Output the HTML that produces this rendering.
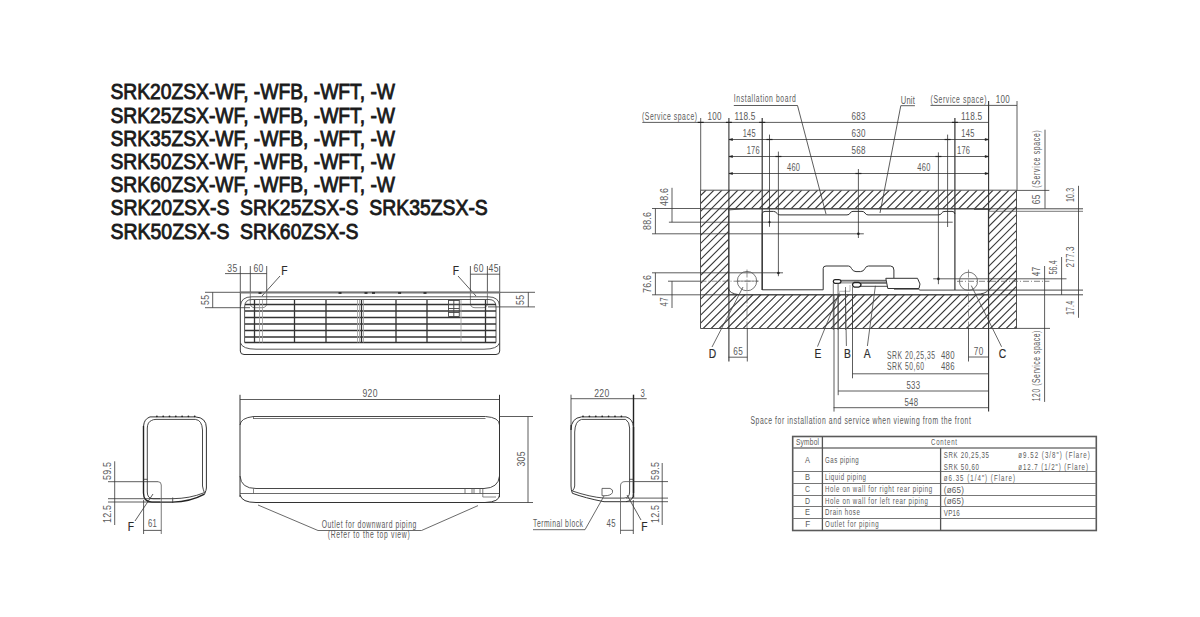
<!DOCTYPE html>
<html><head><meta charset="utf-8"><style>
html,body{margin:0;padding:0;background:#fff;width:1200px;height:617px;overflow:hidden}
svg{display:block}
.cad{font-family:"Liberation Sans",sans-serif;}
.ttl{font-family:"Liberation Sans",sans-serif;stroke:#1a1a1a;stroke-width:0.9px}
.lbl{font-family:"Liberation Sans",sans-serif;stroke:#333;stroke-width:0.2px}
</style></head><body>
<svg width="1200" height="617" viewBox="0 0 1200 617">
<defs><pattern id="hatch" patternUnits="userSpaceOnUse" width="9" height="9" x="0.5" y="0.2"><path d="M-1 10 L10 -1" stroke="#333" stroke-width="0.8"/></pattern></defs>
<rect width="1200" height="617" fill="#fff"/>
<text class="ttl" x="110.5" y="99.0" font-size="22.6" fill="#1a1a1a" text-anchor="start" textLength="284.5" lengthAdjust="spacingAndGlyphs" >SRK20ZSX-WF, -WFB, -WFT, -W</text>
<text class="ttl" x="110.5" y="122.5" font-size="22.6" fill="#1a1a1a" text-anchor="start" textLength="284.5" lengthAdjust="spacingAndGlyphs" >SRK25ZSX-WF, -WFB, -WFT, -W</text>
<text class="ttl" x="110.5" y="145.6" font-size="22.6" fill="#1a1a1a" text-anchor="start" textLength="284.5" lengthAdjust="spacingAndGlyphs" >SRK35ZSX-WF, -WFB, -WFT, -W</text>
<text class="ttl" x="110.5" y="168.6" font-size="22.6" fill="#1a1a1a" text-anchor="start" textLength="284.5" lengthAdjust="spacingAndGlyphs" >SRK50ZSX-WF, -WFB, -WFT, -W</text>
<text class="ttl" x="110.5" y="191.8" font-size="22.6" fill="#1a1a1a" text-anchor="start" textLength="284.5" lengthAdjust="spacingAndGlyphs" >SRK60ZSX-WF, -WFB, -WFT, -W</text>
<text class="ttl" x="110.5" y="215.1" font-size="22.6" fill="#1a1a1a" text-anchor="start" textLength="119" lengthAdjust="spacingAndGlyphs" >SRK20ZSX-S</text>
<text class="ttl" x="240" y="215.1" font-size="22.6" fill="#1a1a1a" text-anchor="start" textLength="118.5" lengthAdjust="spacingAndGlyphs" >SRK25ZSX-S</text>
<text class="ttl" x="369.3" y="215.1" font-size="22.6" fill="#1a1a1a" text-anchor="start" textLength="118.5" lengthAdjust="spacingAndGlyphs" >SRK35ZSX-S</text>
<text class="ttl" x="110.5" y="238.8" font-size="22.6" fill="#1a1a1a" text-anchor="start" textLength="119" lengthAdjust="spacingAndGlyphs" >SRK50ZSX-S</text>
<text class="ttl" x="240" y="238.8" font-size="22.6" fill="#1a1a1a" text-anchor="start" textLength="118.5" lengthAdjust="spacingAndGlyphs" >SRK60ZSX-S</text>
<line x1="225" y1="273.6" x2="266.7" y2="273.6" stroke="#333" stroke-width="0.8" />
<line x1="240.3" y1="266" x2="240.3" y2="292" stroke="#333" stroke-width="0.8" />
<line x1="250.3" y1="266" x2="250.3" y2="292" stroke="#333" stroke-width="0.8" />
<line x1="266.7" y1="266" x2="266.7" y2="292" stroke="#333" stroke-width="0.8" />
<text class="cad" x="0" y="0" font-size="10" fill="#5a5a5a" text-anchor="middle" textLength="11.59" lengthAdjust="spacing" transform="translate(232.3 271.5) scale(0.8631638100590054 1)" >35</text>
<text class="cad" x="0" y="0" font-size="10" fill="#5a5a5a" text-anchor="middle" textLength="11.59" lengthAdjust="spacing" transform="translate(258.4 271.5) scale(0.8631638100590054 1)" >60</text>
<text class="lbl" x="0" y="0" font-size="13.2" fill="#2a2a2a" text-anchor="middle" transform="translate(284.5 275) scale(0.78 1)">F</text>
<line x1="280" y1="276" x2="262" y2="296" stroke="#333" stroke-width="0.8" />
<line x1="212.7" y1="292.3" x2="212.7" y2="307.7" stroke="#333" stroke-width="0.8" />
<line x1="205" y1="292.3" x2="240" y2="292.3" stroke="#333" stroke-width="0.8" />
<line x1="205" y1="307.7" x2="250" y2="307.7" stroke="#333" stroke-width="0.8" />
<text class="cad" x="0" y="0" font-size="10" fill="#5a5a5a" text-anchor="middle" textLength="11.59" lengthAdjust="spacing" transform="translate(209 300) rotate(-90) scale(0.8631638100590054 1)" >55</text>
<line x1="470.4" y1="274.2" x2="499.7" y2="274.2" stroke="#333" stroke-width="0.8" />
<line x1="470.4" y1="266" x2="470.4" y2="292" stroke="#333" stroke-width="0.8" />
<line x1="487.4" y1="266" x2="487.4" y2="292" stroke="#333" stroke-width="0.8" />
<line x1="499.7" y1="266" x2="499.7" y2="292" stroke="#333" stroke-width="0.8" />
<text class="cad" x="0" y="0" font-size="10" fill="#5a5a5a" text-anchor="middle" textLength="11.59" lengthAdjust="spacing" transform="translate(478.5 271.5) scale(0.8631638100590054 1)" >60</text>
<text class="cad" x="0" y="0" font-size="10" fill="#5a5a5a" text-anchor="middle" textLength="11.59" lengthAdjust="spacing" transform="translate(493.5 271.5) scale(0.8631638100590054 1)" >45</text>
<text class="lbl" x="0" y="0" font-size="13.2" fill="#2a2a2a" text-anchor="middle" transform="translate(456 275) scale(0.78 1)">F</text>
<line x1="458" y1="276" x2="476" y2="296" stroke="#333" stroke-width="0.8" />
<line x1="528.3" y1="292.3" x2="528.3" y2="306.9" stroke="#333" stroke-width="0.8" />
<line x1="500" y1="292.3" x2="535" y2="292.3" stroke="#333" stroke-width="0.8" />
<line x1="488" y1="306.9" x2="535" y2="306.9" stroke="#333" stroke-width="0.8" />
<text class="cad" x="0" y="0" font-size="10" fill="#5a5a5a" text-anchor="middle" textLength="11.59" lengthAdjust="spacing" transform="translate(524 300) rotate(-90) scale(0.8631638100590054 1)" >55</text>
<path d="M250.3 292 V303 Q250.3 307.7 255 307.7 H262 Q266.7 307.7 266.7 303 V292" stroke="#555" stroke-width="0.7" fill="none" />
<path d="M470.4 292 V303 Q470.4 307.7 475 307.7 H483 Q487.4 307.7 487.4 303 V292" stroke="#555" stroke-width="0.7" fill="none" />
<path d="M240.3 292.3 V351 Q240.3 354.5 244 354.5 H496 Q499.7 354.5 499.7 351 V292.3 Z" stroke="#333" stroke-width="1.0" fill="none" />
<line x1="240.3" y1="292.5" x2="499.7" y2="292.5" stroke="#777" stroke-width="2.0" />
<path d="M240.5 306 Q240.8 296.8 252 296.8 H488 Q499.3 296.8 499.5 306" stroke="#444" stroke-width="0.9" fill="none" />
<path d="M244.6 342.5 V307 Q244.6 299.5 252 299.5 H489 Q496 299.5 496 307 V342.5" stroke="#444" stroke-width="0.9" fill="none" />
<path d="M240.5 343 Q242.5 349.2 256 349.2 H484 Q497.5 349.2 499.5 343" stroke="#444" stroke-width="0.9" fill="none" />
<line x1="244.6" y1="342.5" x2="496" y2="342.5" stroke="#333" stroke-width="1.3" />
<line x1="245" y1="304.5" x2="496" y2="304.5" stroke="#333" stroke-width="1.3" />
<line x1="245" y1="311.0" x2="496" y2="311.0" stroke="#333" stroke-width="1.3" />
<line x1="245" y1="317.5" x2="496" y2="317.5" stroke="#333" stroke-width="1.3" />
<line x1="245" y1="324.0" x2="496" y2="324.0" stroke="#333" stroke-width="1.3" />
<line x1="245" y1="330.5" x2="496" y2="330.5" stroke="#333" stroke-width="1.3" />
<line x1="245" y1="337.0" x2="496" y2="337.0" stroke="#333" stroke-width="1.3" />
<line x1="294.5" y1="300" x2="294.5" y2="342.5" stroke="#333" stroke-width="1.3" />
<line x1="326" y1="300" x2="326" y2="342.5" stroke="#333" stroke-width="1.3" />
<line x1="361.5" y1="300" x2="361.5" y2="342.5" stroke="#333" stroke-width="1.3" />
<line x1="396" y1="300" x2="396" y2="342.5" stroke="#333" stroke-width="1.3" />
<line x1="427" y1="300" x2="427" y2="342.5" stroke="#333" stroke-width="1.3" />
<line x1="485.5" y1="300" x2="485.5" y2="342.5" stroke="#333" stroke-width="1.3" />
<line x1="254.5" y1="300" x2="254.5" y2="342.5" stroke="#333" stroke-width="1.3" />
<line x1="259.5" y1="300" x2="259.5" y2="342.5" stroke="#999" stroke-width="0.8" />
<line x1="262.5" y1="300" x2="262.5" y2="342.5" stroke="#999" stroke-width="0.8" />
<line x1="357.5" y1="300" x2="357.5" y2="342.5" stroke="#999" stroke-width="0.8" />
<line x1="359.5" y1="300" x2="359.5" y2="342.5" stroke="#999" stroke-width="0.8" />
<line x1="363.5" y1="300" x2="363.5" y2="342.5" stroke="#999" stroke-width="0.8" />
<line x1="461" y1="300" x2="461" y2="342.5" stroke="#999" stroke-width="0.8" />
<line x1="448.3" y1="300.5" x2="459.3" y2="300.5" stroke="#444" stroke-width="0.9" />
<line x1="448.3" y1="304.5" x2="459.3" y2="304.5" stroke="#444" stroke-width="0.9" />
<line x1="448.3" y1="308.5" x2="459.3" y2="308.5" stroke="#444" stroke-width="0.9" />
<line x1="448.3" y1="312.5" x2="459.3" y2="312.5" stroke="#444" stroke-width="0.9" />
<line x1="448.3" y1="316.5" x2="459.3" y2="316.5" stroke="#444" stroke-width="0.9" />
<line x1="448.5" y1="300" x2="448.5" y2="316.5" stroke="#444" stroke-width="0.9" />
<line x1="453.8" y1="300" x2="453.8" y2="316.5" stroke="#444" stroke-width="0.9" />
<line x1="459.3" y1="300" x2="459.3" y2="316.5" stroke="#444" stroke-width="0.9" />
<line x1="338.5" y1="293" x2="341.5" y2="293" stroke="#222" stroke-width="1.6" />
<line x1="364.5" y1="293" x2="367.5" y2="293" stroke="#222" stroke-width="1.6" />
<line x1="372.0" y1="293" x2="375.0" y2="293" stroke="#222" stroke-width="1.6" />
<line x1="398.1" y1="293" x2="401.1" y2="293" stroke="#222" stroke-width="1.6" />
<line x1="258.5" y1="293" x2="261.5" y2="293" stroke="#222" stroke-width="1.6" />
<line x1="423.5" y1="293" x2="426.5" y2="293" stroke="#222" stroke-width="1.6" />
<path d="M143.5 426 V493 Q143.5 502.1 152 502.1 H172.7 Q190 502 204.5 494.2" stroke="#222" stroke-width="1.4" fill="none" />
<path d="M147.3 428 V492 Q147.3 498.7 153 498.7 H172.7 Q190 498.5 203.9 492.8" stroke="#333" stroke-width="0.9" fill="none" />
<line x1="172.7" y1="497.5" x2="172.7" y2="503" stroke="#333" stroke-width="0.8" />
<line x1="143.5" y1="479.3" x2="147.3" y2="479.3" stroke="#333" stroke-width="0.8" />
<path d="M143.6 426 Q144 419 150 416.9 H195.3 Q206.4 417.5 206.4 428 V488 Q206.4 490 204.5 494.2" stroke="#333" stroke-width="1.0" fill="none" />
<path d="M147.3 428 Q147.5 422 151.5 420.5 Q153 419.4 156 419.4 H195.3 Q202 420 202.5 430 V486 Q203 489 204.5 493" stroke="#333" stroke-width="0.9" fill="none" />
<circle cx="156.9" cy="416.3" r="0.9" fill="#222"/>
<circle cx="163.20000000000002" cy="416.3" r="0.9" fill="#222"/>
<circle cx="169.5" cy="416.3" r="0.9" fill="#222"/>
<circle cx="175.8" cy="416.3" r="0.9" fill="#222"/>
<circle cx="182.1" cy="416.3" r="0.9" fill="#222"/>
<circle cx="188.4" cy="416.3" r="0.9" fill="#222"/>
<circle cx="194.7" cy="416.3" r="0.9" fill="#222"/>
<line x1="114.7" y1="461.3" x2="114.7" y2="502" stroke="#333" stroke-width="0.8" />
<line x1="108" y1="481.7" x2="158" y2="481.7" stroke="#333" stroke-width="0.8" />
<path d="M158 481.7 Q161.25 481.7 161.25 485 V534" stroke="#555" stroke-width="0.8" fill="none" />
<line x1="108" y1="498.7" x2="160" y2="498.7" stroke="#333" stroke-width="0.8" />
<line x1="108" y1="502" x2="160" y2="502" stroke="#333" stroke-width="0.8" />
<line x1="114.7" y1="502" x2="114.7" y2="525" stroke="#333" stroke-width="0.8" />
<text class="cad" x="0" y="0" font-size="10" fill="#5a5a5a" text-anchor="middle" textLength="20.27" lengthAdjust="spacing" transform="translate(111 471) rotate(-90) scale(0.8879325572059413 1)" >59.5</text>
<text class="cad" x="0" y="0" font-size="10" fill="#5a5a5a" text-anchor="middle" textLength="20.27" lengthAdjust="spacing" transform="translate(111 514) rotate(-90) scale(0.8879325572059413 1)" >12.5</text>
<line x1="143.6" y1="500" x2="143.6" y2="534" stroke="#333" stroke-width="0.8" />
<line x1="143.6" y1="530.4" x2="161.25" y2="530.4" stroke="#333" stroke-width="0.8" />
<text class="cad" x="0" y="0" font-size="10" fill="#5a5a5a" text-anchor="middle" textLength="11.59" lengthAdjust="spacing" transform="translate(152.4 527) scale(0.7768474290531048 1)" >61</text>
<text class="lbl" x="0" y="0" font-size="13.2" fill="#2a2a2a" text-anchor="middle" transform="translate(131 531) scale(0.78 1)">F</text>
<line x1="135" y1="521" x2="153" y2="494" stroke="#333" stroke-width="0.8" />
<line x1="240" y1="394.8" x2="240" y2="497" stroke="#333" stroke-width="1.0" />
<line x1="499.5" y1="394.8" x2="499.5" y2="497" stroke="#333" stroke-width="1.0" />
<line x1="240" y1="399.5" x2="499.5" y2="399.5" stroke="#333" stroke-width="0.8" />
<text class="cad" x="0" y="0" font-size="10" fill="#5a5a5a" text-anchor="middle" textLength="17.38" lengthAdjust="spacing" transform="translate(370 397.4) scale(0.8631638100590053 1)" >920</text>
<line x1="253.5" y1="416.5" x2="485.5" y2="416.5" stroke="#333" stroke-width="0.9" />
<line x1="253.5" y1="418.5" x2="485.5" y2="418.5" stroke="#555" stroke-width="0.8" />
<path d="M240 425 Q240.5 418 253.5 416.5" stroke="#333" stroke-width="0.9" fill="none" />
<line x1="253.5" y1="416" x2="253.5" y2="419" stroke="#444" stroke-width="0.7" />
<path d="M485.5 416.5 Q499.5 417.5 499.5 425" stroke="#333" stroke-width="0.9" fill="none" />
<path d="M240 476 Q241 488.5 256 488.5 H484 Q498.5 488 499.5 476" stroke="#333" stroke-width="0.9" fill="none" />
<line x1="240" y1="493.5" x2="499.5" y2="493.5" stroke="#444" stroke-width="0.8" />
<path d="M240 495 Q242 502.5 256 502.5 H485 Q499.5 502 499.5 495" stroke="#333" stroke-width="1.0" fill="none" />
<line x1="253.5" y1="488.5" x2="253.5" y2="493.5" stroke="#555" stroke-width="0.7" />
<line x1="465" y1="488.5" x2="465" y2="493.5" stroke="#555" stroke-width="0.8" />
<line x1="472" y1="488.5" x2="472" y2="493.5" stroke="#555" stroke-width="0.8" />
<line x1="474" y1="488.5" x2="474" y2="493.5" stroke="#555" stroke-width="0.8" />
<line x1="480" y1="488.5" x2="480" y2="493.5" stroke="#555" stroke-width="0.8" />
<line x1="482.8" y1="488.5" x2="482.8" y2="493.5" stroke="#555" stroke-width="0.8" />
<path d="M482.8 493.5 V497 H496" stroke="#555" stroke-width="0.7" fill="none" />
<line x1="499.5" y1="416.5" x2="533" y2="416.5" stroke="#333" stroke-width="0.8" />
<line x1="485" y1="502.5" x2="533" y2="502.5" stroke="#333" stroke-width="0.8" />
<line x1="528" y1="416.5" x2="528" y2="502.5" stroke="#333" stroke-width="0.8" />
<text class="cad" x="0" y="0" font-size="10" fill="#5a5a5a" text-anchor="middle" textLength="17.38" lengthAdjust="spacing" transform="translate(524.5 459) rotate(-90) scale(0.8631638100590053 1)" >305</text>
<path d="M258 505 L318 530.5 H421.5 L478 505.6" stroke="#444" stroke-width="0.8" fill="none" />
<text class="cad" x="0" y="0" font-size="10" fill="#5a5a5a" text-anchor="middle" textLength="139.12" lengthAdjust="spacing" transform="translate(369 527.5) scale(0.68 1)" >Outlet for downward piping</text>
<text class="cad" x="0" y="0" font-size="10" fill="#5a5a5a" text-anchor="middle" textLength="120.59" lengthAdjust="spacing" transform="translate(368.7 538.3) scale(0.68 1)" >(Refer to the top view)</text>
<line x1="571" y1="394.7" x2="571" y2="430" stroke="#333" stroke-width="0.8" />
<line x1="571" y1="398.7" x2="633.3" y2="398.7" stroke="#333" stroke-width="0.8" />
<line x1="633.3" y1="398.7" x2="646.7" y2="398.7" stroke="#333" stroke-width="0.8" />
<line x1="633.5" y1="394.7" x2="633.5" y2="497.6" stroke="#222" stroke-width="1.4" />
<text class="cad" x="0" y="0" font-size="10" fill="#5a5a5a" text-anchor="middle" textLength="17.38" lengthAdjust="spacing" transform="translate(601.7 396.5) scale(0.8631638100590053 1)" >220</text>
<text class="cad" x="0" y="0" font-size="10" fill="#5a5a5a" text-anchor="middle" textLength="5.79" lengthAdjust="spacing" transform="translate(642.6 396.5) scale(0.7768474290531048 1)" >3</text>
<path d="M571 425 V486 Q571 490 572.4 493.3 Q585 498 604 501.7 H626 Q633.5 501 633.5 493 V427 Q633 419 626 416.9 H581.5 Q571 418 571 430" stroke="#333" stroke-width="1.0" fill="none" />
<path d="M574.7 432 V486 Q574.7 488 572.4 491 Q590 497 604 498.1 H624 Q629.6 498 629.6 492 V428 Q629.6 422 625.7 419.4 H581.5 Q575 421 574.7 432" stroke="#333" stroke-width="0.9" fill="none" />
<line x1="633.5" y1="427" x2="633.5" y2="493" stroke="#222" stroke-width="1.4" />
<line x1="629.6" y1="479.3" x2="633.5" y2="479.3" stroke="#333" stroke-width="0.8" />
<circle cx="583.0" cy="416.3" r="0.9" fill="#222"/>
<circle cx="589.4" cy="416.3" r="0.9" fill="#222"/>
<circle cx="595.8" cy="416.3" r="0.9" fill="#222"/>
<circle cx="602.2" cy="416.3" r="0.9" fill="#222"/>
<circle cx="608.6" cy="416.3" r="0.9" fill="#222"/>
<circle cx="615.0" cy="416.3" r="0.9" fill="#222"/>
<circle cx="621.4" cy="416.3" r="0.9" fill="#222"/>
<path d="M602 488.4 H610 Q613.5 489.5 612.5 492.5 Q611 495.7 605 495.7 H602 Z" stroke="#444" stroke-width="0.8" fill="none" />
<path d="M604 496 L585 529.7 H533" stroke="#444" stroke-width="0.8" fill="none" />
<text class="cad" x="0" y="0" font-size="10" fill="#5a5a5a" text-anchor="middle" textLength="73.53" lengthAdjust="spacing" transform="translate(558 526.5) scale(0.68 1)" >Terminal block</text>
<path d="M633 481.6 H625 Q620.5 481.6 620.5 486 V534" stroke="#555" stroke-width="0.8" fill="none" />
<line x1="620.5" y1="530.3" x2="633.3" y2="530.3" stroke="#333" stroke-width="0.8" />
<line x1="633.3" y1="500" x2="633.3" y2="534" stroke="#333" stroke-width="0.8" />
<text class="cad" x="0" y="0" font-size="10" fill="#5a5a5a" text-anchor="middle" textLength="11.59" lengthAdjust="spacing" transform="translate(611 527) scale(0.7768474290531048 1)" >45</text>
<line x1="626" y1="498.1" x2="668" y2="498.1" stroke="#333" stroke-width="0.8" />
<line x1="626" y1="501.7" x2="668" y2="501.7" stroke="#333" stroke-width="0.8" />
<line x1="633" y1="481.6" x2="668" y2="481.6" stroke="#333" stroke-width="0.8" />
<line x1="662.2" y1="463" x2="662.2" y2="525" stroke="#333" stroke-width="0.8" />
<text class="cad" x="0" y="0" font-size="10" fill="#5a5a5a" text-anchor="middle" textLength="20.27" lengthAdjust="spacing" transform="translate(658.5 471) rotate(-90) scale(0.8879325572059413 1)" >59.5</text>
<text class="cad" x="0" y="0" font-size="10" fill="#5a5a5a" text-anchor="middle" textLength="20.27" lengthAdjust="spacing" transform="translate(658.5 514) rotate(-90) scale(0.8879325572059413 1)" >12.5</text>
<text class="lbl" x="0" y="0" font-size="13.2" fill="#2a2a2a" text-anchor="middle" transform="translate(644.5 531) scale(0.78 1)">F</text>
<line x1="627" y1="495" x2="641" y2="520" stroke="#333" stroke-width="0.8" />
<clipPath id="hc"><path d="M700.5 190.2 H1016.5 V328.5 H700.5 Z M728.7 208.8 V294.8 H988.4 V208.8 Z" clip-rule="evenodd"/></clipPath>
<path d="M559.15 329 L698.15 190 M567.12 329 L706.12 190 M575.10 329 L714.10 190 M583.08 329 L722.08 190 M591.05 329 L730.05 190 M599.03 329 L738.03 190 M607.00 329 L746.00 190 M614.98 329 L753.98 190 M622.95 329 L761.95 190 M630.93 329 L769.93 190 M638.90 329 L777.90 190 M646.88 329 L785.88 190 M654.85 329 L793.85 190 M662.83 329 L801.83 190 M670.80 329 L809.80 190 M678.78 329 L817.78 190 M686.75 329 L825.75 190 M694.73 329 L833.73 190 M702.70 329 L841.70 190 M710.67 329 L849.67 190 M718.65 329 L857.65 190 M726.62 329 L865.62 190 M734.60 329 L873.60 190 M742.58 329 L881.58 190 M750.55 329 L889.55 190 M758.53 329 L897.53 190 M766.50 329 L905.50 190 M774.48 329 L913.48 190 M782.45 329 L921.45 190 M790.42 329 L929.42 190 M798.40 329 L937.40 190 M806.38 329 L945.38 190 M814.35 329 L953.35 190 M822.33 329 L961.33 190 M830.30 329 L969.30 190 M838.28 329 L977.28 190 M846.25 329 L985.25 190 M854.23 329 L993.23 190 M862.20 329 L1001.20 190 M870.17 329 L1009.17 190 M878.15 329 L1017.15 190 M886.12 329 L1025.12 190 M894.10 329 L1033.10 190 M902.08 329 L1041.08 190 M910.05 329 L1049.05 190 M918.03 329 L1057.03 190 M926.00 329 L1065.00 190 M933.97 329 L1072.97 190 M941.95 329 L1080.95 190 M949.92 329 L1088.92 190 M957.90 329 L1096.90 190 M965.88 329 L1104.88 190 M973.85 329 L1112.85 190 M981.83 329 L1120.83 190 M989.80 329 L1128.80 190 M997.78 329 L1136.78 190 M1005.75 329 L1144.75 190 M1013.72 329 L1152.72 190 M1021.70 329 L1160.70 190 M1029.67 329 L1168.67 190 M1037.65 329 L1176.65 190 M1045.62 329 L1184.62 190 M1053.60 329 L1192.60 190 M1061.58 329 L1200.58 190 M1069.55 329 L1208.55 190" stroke="#3a3a3a" stroke-width="1.1" clip-path="url(#hc)" fill="none"/>
<path d="M700.5 190.2 H1016.5 V328.5 H700.5 Z M728.7 208.8 V294.8 H988.4 V208.8 Z" fill="none" fill-rule="evenodd" stroke="#505050" stroke-width="1"/>
<line x1="642.3" y1="122.4" x2="988.9" y2="122.4" stroke="#333" stroke-width="0.8" />
<text class="cad" x="0" y="0" font-size="10" fill="#5a5a5a" text-anchor="middle" textLength="80.88" lengthAdjust="spacing" transform="translate(669.5 120.3) scale(0.68 1)" >(Service space)</text>
<text class="cad" x="0" y="0" font-size="10" fill="#5a5a5a" text-anchor="middle" textLength="17.38" lengthAdjust="spacing" transform="translate(714.5 120.3) scale(0.8056195560550715 1)" >100</text>
<text class="cad" x="0" y="0" font-size="10" fill="#5a5a5a" text-anchor="middle" textLength="25.29" lengthAdjust="spacing" transform="translate(745 120.3) scale(0.830323701653903 1)" >118.5</text>
<text class="cad" x="0" y="0" font-size="10" fill="#5a5a5a" text-anchor="middle" textLength="17.38" lengthAdjust="spacing" transform="translate(858.4 120.3) scale(0.8056195560550715 1)" >683</text>
<text class="cad" x="0" y="0" font-size="10" fill="#5a5a5a" text-anchor="middle" textLength="25.29" lengthAdjust="spacing" transform="translate(971.6 120.3) scale(0.830323701653903 1)" >118.5</text>
<line x1="728.9" y1="139.5" x2="988.9" y2="139.5" stroke="#333" stroke-width="0.8" />
<line x1="728.9" y1="156.5" x2="988.9" y2="156.5" stroke="#333" stroke-width="0.8" />
<line x1="728.9" y1="173.5" x2="988.9" y2="173.5" stroke="#333" stroke-width="0.8" />
<text class="cad" x="0" y="0" font-size="10" fill="#5a5a5a" text-anchor="middle" textLength="17.38" lengthAdjust="spacing" transform="translate(749.2 137) scale(0.7480753020511379 1)" >145</text>
<text class="cad" x="0" y="0" font-size="10" fill="#5a5a5a" text-anchor="middle" textLength="17.38" lengthAdjust="spacing" transform="translate(858.4 137) scale(0.8056195560550715 1)" >630</text>
<text class="cad" x="0" y="0" font-size="10" fill="#5a5a5a" text-anchor="middle" textLength="17.38" lengthAdjust="spacing" transform="translate(967.8 137) scale(0.7480753020511379 1)" >145</text>
<text class="cad" x="0" y="0" font-size="10" fill="#5a5a5a" text-anchor="middle" textLength="17.38" lengthAdjust="spacing" transform="translate(753.2 154) scale(0.7480753020511379 1)" >176</text>
<text class="cad" x="0" y="0" font-size="10" fill="#5a5a5a" text-anchor="middle" textLength="17.38" lengthAdjust="spacing" transform="translate(858.4 154) scale(0.8056195560550715 1)" >568</text>
<text class="cad" x="0" y="0" font-size="10" fill="#5a5a5a" text-anchor="middle" textLength="17.38" lengthAdjust="spacing" transform="translate(963.5 154) scale(0.7480753020511379 1)" >176</text>
<text class="cad" x="0" y="0" font-size="10" fill="#5a5a5a" text-anchor="middle" textLength="17.38" lengthAdjust="spacing" transform="translate(793.5 171) scale(0.7480753020511379 1)" >460</text>
<text class="cad" x="0" y="0" font-size="10" fill="#5a5a5a" text-anchor="middle" textLength="17.38" lengthAdjust="spacing" transform="translate(923.8 171) scale(0.7480753020511379 1)" >460</text>
<line x1="930.5" y1="105.4" x2="1017" y2="105.4" stroke="#333" stroke-width="0.8" />
<text class="cad" x="0" y="0" font-size="10" fill="#5a5a5a" text-anchor="middle" textLength="82.35" lengthAdjust="spacing" transform="translate(958.5 103) scale(0.68 1)" >(Service space)</text>
<text class="cad" x="0" y="0" font-size="10" fill="#5a5a5a" text-anchor="middle" textLength="17.38" lengthAdjust="spacing" transform="translate(1002.7 103) scale(0.8056195560550715 1)" >100</text>
<line x1="700.7" y1="118" x2="700.7" y2="190.2" stroke="#333" stroke-width="0.8" />
<line x1="728.9" y1="118" x2="728.9" y2="361.5" stroke="#333" stroke-width="1.1" />
<line x1="762.2" y1="118" x2="762.2" y2="290" stroke="#333" stroke-width="1.2" />
<line x1="769.5" y1="134.6" x2="769.5" y2="226.8" stroke="#333" stroke-width="0.8" />
<line x1="778.4" y1="151.6" x2="778.4" y2="276.2" stroke="#333" stroke-width="0.8" />
<line x1="858.4" y1="169" x2="858.4" y2="238" stroke="#333" stroke-width="0.8" />
<line x1="938.4" y1="152.4" x2="938.4" y2="284.2" stroke="#333" stroke-width="0.8" />
<line x1="947.6" y1="134.6" x2="947.6" y2="227" stroke="#333" stroke-width="0.8" />
<line x1="954.9" y1="118" x2="954.9" y2="290" stroke="#333" stroke-width="1.2" />
<line x1="988.6" y1="101" x2="988.6" y2="411.6" stroke="#333" stroke-width="1.1" />
<line x1="1017" y1="101" x2="1017" y2="190.2" stroke="#333" stroke-width="0.8" />
<line x1="759.2" y1="122.4" x2="765.2" y2="122.4" stroke="#222" stroke-width="1.2" />
<line x1="766.5" y1="139.5" x2="772.5" y2="139.5" stroke="#222" stroke-width="1.2" />
<line x1="775.4" y1="156.5" x2="781.4" y2="156.5" stroke="#222" stroke-width="1.2" />
<line x1="855.4" y1="173.5" x2="861.4" y2="173.5" stroke="#222" stroke-width="1.2" />
<line x1="935.4" y1="156.5" x2="941.4" y2="156.5" stroke="#222" stroke-width="1.2" />
<line x1="944.6" y1="139.5" x2="950.6" y2="139.5" stroke="#222" stroke-width="1.2" />
<line x1="951.9" y1="122.4" x2="957.9" y2="122.4" stroke="#222" stroke-width="1.2" />
<line x1="697.7" y1="122.4" x2="703.7" y2="122.4" stroke="#222" stroke-width="1.2" />
<line x1="725.9" y1="122.4" x2="731.9" y2="122.4" stroke="#222" stroke-width="1.2" />
<path d="M729 139.5 l3.5 -1 v2 z" stroke="#222" stroke-width="0.6" fill="#222" />
<path d="M988.6 139.5 l-3.5 -1 v2 z" stroke="#222" stroke-width="0.6" fill="#222" />
<path d="M729 156.5 l3.5 -1 v2 z" stroke="#222" stroke-width="0.6" fill="#222" />
<path d="M988.6 156.5 l-3.5 -1 v2 z" stroke="#222" stroke-width="0.6" fill="#222" />
<path d="M729 173.5 l3.5 -1 v2 z" stroke="#222" stroke-width="0.6" fill="#222" />
<path d="M988.6 173.5 l-3.5 -1 v2 z" stroke="#222" stroke-width="0.6" fill="#222" />
<line x1="733.8" y1="105.5" x2="797.5" y2="105.5" stroke="#333" stroke-width="0.8" />
<text class="cad" x="0" y="0" font-size="10" fill="#5a5a5a" text-anchor="middle" textLength="91.18" lengthAdjust="spacing" transform="translate(764.8 102.2) scale(0.68 1)" >Installation board</text>
<line x1="797.5" y1="105.5" x2="826" y2="214" stroke="#333" stroke-width="0.8" />
<line x1="900.8" y1="105.7" x2="914.9" y2="105.7" stroke="#333" stroke-width="0.8" />
<text class="cad" x="0" y="0" font-size="10" fill="#5a5a5a" text-anchor="middle" textLength="18.52" lengthAdjust="spacing" transform="translate(907.8 104) scale(0.7557859590545647 1)" >Unit</text>
<line x1="900.8" y1="105.7" x2="880" y2="213" stroke="#333" stroke-width="0.8" />
<line x1="652" y1="208.5" x2="700.5" y2="208.5" stroke="#333" stroke-width="0.8" />
<line x1="668.9" y1="222.2" x2="700.5" y2="222.2" stroke="#333" stroke-width="0.8" />
<line x1="652" y1="233.8" x2="700.5" y2="233.8" stroke="#333" stroke-width="0.8" />
<line x1="672" y1="187.8" x2="672" y2="222.2" stroke="#333" stroke-width="0.8" />
<line x1="655.4" y1="208.5" x2="655.4" y2="233.8" stroke="#333" stroke-width="0.8" />
<text class="cad" x="0" y="0" font-size="10" fill="#5a5a5a" text-anchor="middle" textLength="20.27" lengthAdjust="spacing" transform="translate(667.8 197) rotate(-90) scale(0.8879325572059413 1)" >48.6</text>
<text class="cad" x="0" y="0" font-size="10" fill="#5a5a5a" text-anchor="middle" textLength="20.27" lengthAdjust="spacing" transform="translate(651.2 221) rotate(-90) scale(0.8879325572059413 1)" >88.6</text>
<line x1="652" y1="272.8" x2="700.5" y2="272.8" stroke="#333" stroke-width="0.8" />
<line x1="668" y1="281.2" x2="700.5" y2="281.2" stroke="#333" stroke-width="0.8" />
<line x1="652" y1="294.8" x2="700.5" y2="294.8" stroke="#333" stroke-width="0.8" />
<line x1="655.4" y1="272.8" x2="655.4" y2="294.8" stroke="#333" stroke-width="0.8" />
<line x1="672" y1="281.2" x2="672" y2="308" stroke="#333" stroke-width="0.8" />
<text class="cad" x="0" y="0" font-size="10" fill="#5a5a5a" text-anchor="middle" textLength="20.27" lengthAdjust="spacing" transform="translate(651.2 284) rotate(-90) scale(0.8879325572059413 1)" >76.6</text>
<text class="cad" x="0" y="0" font-size="10" fill="#5a5a5a" text-anchor="middle" textLength="11.59" lengthAdjust="spacing" transform="translate(667.8 302) rotate(-90) scale(0.7768474290531048 1)" >47</text>
<line x1="700.5" y1="208.8" x2="1083" y2="208.8" stroke="#333" stroke-width="0.9" />
<line x1="988.4" y1="211.3" x2="1083" y2="211.3" stroke="#555" stroke-width="0.8" />
<line x1="700.5" y1="222.2" x2="952.7" y2="222.2" stroke="#333" stroke-width="0.8" />
<line x1="700.5" y1="233.8" x2="863.8" y2="233.8" stroke="#333" stroke-width="0.8" />
<line x1="700.5" y1="272.8" x2="783" y2="272.8" stroke="#333" stroke-width="0.8" />
<line x1="700.5" y1="281.2" x2="758.4" y2="281.2" stroke="#666" stroke-width="0.8" stroke-dasharray="6 2 1 2"/>
<line x1="957" y1="281.3" x2="1049.4" y2="281.3" stroke="#666" stroke-width="0.8" stroke-dasharray="6 2 1 2"/>
<line x1="933.2" y1="278.8" x2="1066.5" y2="278.8" stroke="#333" stroke-width="0.8" />
<line x1="919.4" y1="290.1" x2="1083" y2="290.1" stroke="#333" stroke-width="0.9" />
<line x1="700.5" y1="294.8" x2="1083" y2="294.8" stroke="#333" stroke-width="0.9" />
<line x1="1016.5" y1="328.4" x2="1050" y2="328.4" stroke="#333" stroke-width="0.8" />
<path d="M728.7 289 Q729.5 293.5 738.9 294.7" stroke="#333" stroke-width="0.9" fill="none" />
<path d="M975.6 294.4 Q986 294 988.4 290" stroke="#333" stroke-width="0.9" fill="none" />
<path d="M728.9 210 L745 208.5" stroke="#444" stroke-width="0.8" fill="none" />
<path d="M974 209.5 H988" stroke="#444" stroke-width="0.8" fill="none" />
<path d="M762.2 290 V213.9 Q762.2 211.4 765 211.4 H773.5 Q776 211.4 777 213.5 Q777.5 214.9 780 214.9 H847 Q849.5 214.9 850.2 213 Q851 211.4 853 211.4 H862 Q864 211.4 865 213 Q866 214.9 868 214.9 H938.5 Q941 214.9 941.7 213 Q942.5 211.4 945 211.4 H952 Q954.9 211.4 954.9 214" stroke="#333" stroke-width="1.0" fill="none" />
<path d="M762.2 289.8 H823.2 V268.5 Q823.2 266 826 266 H848.5 Q850.5 266 851.5 268.5 Q853 271.6 856 271.6 H860.5 Q863.5 271.6 865 268.5 Q866 266 868.5 266 H890.5 Q893.9 266 893.9 270 V278.3" stroke="#333" stroke-width="1.0" fill="none" />
<circle cx="747" cy="281.1" r="9.7" stroke="#555" stroke-width="0.8" fill="none"/>
<circle cx="968.5" cy="281.3" r="9.1" stroke="#555" stroke-width="0.8" fill="none"/>
<line x1="747" y1="269.5" x2="747" y2="328" stroke="#666" stroke-width="0.7" stroke-dasharray="8 2 1 2"/>
<line x1="747.3" y1="328" x2="747.3" y2="361.5" stroke="#333" stroke-width="0.8" />
<line x1="737.6" y1="281.1" x2="758.4" y2="281.1" stroke="#666" stroke-width="0.7" />
<line x1="968.5" y1="269.6" x2="968.5" y2="328" stroke="#666" stroke-width="0.7" stroke-dasharray="8 2 1 2"/>
<circle cx="769.5" cy="222.2" r="1.1" fill="#222"/>
<circle cx="858.4" cy="233.8" r="1.3" fill="#222"/>
<circle cx="778.4" cy="273" r="1.3" fill="#222"/>
<circle cx="938.4" cy="278.9" r="1.3" fill="#222"/>
<rect x="840" y="280" width="46" height="3.6" fill="#aaa"/>
<line x1="840" y1="280.3" x2="886" y2="280.3" stroke="#444" stroke-width="0.8" />
<path d="M835 279.6 H839 Q841 279.8 841 281.45 Q841 283.1 839 283.3 H835 Q833.3 283.1 833.3 281.45 Q833.3 279.8 835 279.6 Z" stroke="#222" stroke-width="1.3" fill="#fff" />
<path d="M854.5 282.5 H858.5 Q861 283 861 284.8 Q861 286.7 858.5 287.1 H854.5 Q852.5 286.7 852.5 284.8 Q852.5 283 854.5 282.5 Z" stroke="#222" stroke-width="1.3" fill="#fff" />
<line x1="861" y1="283.0" x2="888" y2="283.0" stroke="#333" stroke-width="0.9" />
<line x1="861" y1="286.3" x2="888" y2="286.3" stroke="#333" stroke-width="0.9" />
<path d="M885.8 278.3 H917.5 L920 284 L919 288.5 H887.8 Z" stroke="#333" stroke-width="1.0" fill="#fff" />
<line x1="894" y1="289.5" x2="920" y2="289.5" stroke="#888" stroke-width="1.0" />
<line x1="833.3" y1="283.3" x2="833.3" y2="330" stroke="#555" stroke-width="0.8" />
<line x1="838" y1="283.3" x2="838" y2="330" stroke="#555" stroke-width="0.8" />
<line x1="845.5" y1="287" x2="845.5" y2="330" stroke="#555" stroke-width="0.8" />
<line x1="852.5" y1="287" x2="852.5" y2="330" stroke="#555" stroke-width="0.8" />
<path d="M838.5 284 V291.3 H850 V285" stroke="#999" stroke-width="0.7" fill="none" />
<line x1="743" y1="287" x2="712" y2="347" stroke="#444" stroke-width="0.8" />
<line x1="839.4" y1="292.6" x2="817.5" y2="346.6" stroke="#444" stroke-width="0.8" />
<line x1="845.4" y1="290" x2="846.4" y2="346" stroke="#444" stroke-width="0.8" />
<line x1="875.4" y1="285.8" x2="867.4" y2="346" stroke="#444" stroke-width="0.8" />
<line x1="971.3" y1="285.6" x2="1001.6" y2="346.8" stroke="#444" stroke-width="0.8" />
<text class="lbl" x="0" y="0" font-size="13.2" fill="#2a2a2a" text-anchor="middle" transform="translate(712.4 357.8) scale(0.78 1)">D</text>
<text class="lbl" x="0" y="0" font-size="13.2" fill="#2a2a2a" text-anchor="middle" transform="translate(817.8 357.8) scale(0.78 1)">E</text>
<text class="lbl" x="0" y="0" font-size="13.2" fill="#2a2a2a" text-anchor="middle" transform="translate(847.4 357.8) scale(0.78 1)">B</text>
<text class="lbl" x="0" y="0" font-size="13.2" fill="#2a2a2a" text-anchor="middle" transform="translate(867.2 357.8) scale(0.78 1)">A</text>
<text class="lbl" x="0" y="0" font-size="13.2" fill="#2a2a2a" text-anchor="middle" transform="translate(1002.4 357.8) scale(0.78 1)">C</text>
<line x1="728.5" y1="357.2" x2="747.3" y2="357.2" stroke="#333" stroke-width="0.8" />
<text class="cad" x="0" y="0" font-size="10" fill="#5a5a5a" text-anchor="middle" textLength="11.59" lengthAdjust="spacing" transform="translate(738 355) scale(0.8200056195560551 1)" >65</text>
<line x1="968.5" y1="357" x2="988.6" y2="357" stroke="#333" stroke-width="0.8" />
<text class="cad" x="0" y="0" font-size="10" fill="#5a5a5a" text-anchor="middle" textLength="11.59" lengthAdjust="spacing" transform="translate(978.5 355) scale(0.8200056195560551 1)" >70</text>
<line x1="968.5" y1="328" x2="968.5" y2="361.5" stroke="#333" stroke-width="0.8" />
<line x1="852.5" y1="294.8" x2="852.5" y2="378.3" stroke="#333" stroke-width="0.8" />
<line x1="838.2" y1="294.8" x2="838.2" y2="395.2" stroke="#333" stroke-width="0.8" />
<line x1="834" y1="294.8" x2="834" y2="411.6" stroke="#333" stroke-width="0.8" />
<line x1="852.5" y1="373.8" x2="988.6" y2="373.8" stroke="#333" stroke-width="0.8" />
<line x1="838.2" y1="391" x2="988.6" y2="391" stroke="#333" stroke-width="0.8" />
<line x1="833.6" y1="407.7" x2="988.6" y2="407.7" stroke="#333" stroke-width="0.8" />
<text class="cad" x="0" y="0" font-size="10" fill="#5a5a5a" text-anchor="middle" textLength="70.59" lengthAdjust="spacing" transform="translate(911 359.3) scale(0.68 1)" >SRK 20,25,35</text>
<text class="cad" x="0" y="0" font-size="10" fill="#5a5a5a" text-anchor="middle" textLength="54.41" lengthAdjust="spacing" transform="translate(905.5 370.3) scale(0.68 1)" >SRK 50,60</text>
<text class="cad" x="0" y="0" font-size="10" fill="#5a5a5a" text-anchor="middle" textLength="17.38" lengthAdjust="spacing" transform="translate(947.7 359.3) scale(0.7826018544534982 1)" >480</text>
<text class="cad" x="0" y="0" font-size="10" fill="#5a5a5a" text-anchor="middle" textLength="17.38" lengthAdjust="spacing" transform="translate(947.7 370.3) scale(0.7826018544534982 1)" >486</text>
<text class="cad" x="0" y="0" font-size="10" fill="#5a5a5a" text-anchor="middle" textLength="17.38" lengthAdjust="spacing" transform="translate(913.3 388.7) scale(0.7826018544534982 1)" >533</text>
<text class="cad" x="0" y="0" font-size="10" fill="#5a5a5a" text-anchor="middle" textLength="17.38" lengthAdjust="spacing" transform="translate(911.2 405.6) scale(0.7826018544534982 1)" >548</text>
<text class="cad" x="0" y="0" font-size="10" fill="#5a5a5a" text-anchor="middle" textLength="324.12" lengthAdjust="spacing" transform="translate(860.6 424.4) scale(0.68 1)" >Space for installation and service when viewing from the front</text>
<line x1="1016.5" y1="190.4" x2="1049.3" y2="190.4" stroke="#333" stroke-width="0.8" />
<line x1="1045" y1="129.7" x2="1045" y2="208.5" stroke="#333" stroke-width="0.8" />
<text class="cad" x="0" y="0" font-size="10" fill="#5a5a5a" text-anchor="middle" textLength="84.71" lengthAdjust="spacing" transform="translate(1039.5 159) rotate(-90) scale(0.68 1)" >(Service space)</text>
<text class="cad" x="0" y="0" font-size="10" fill="#5a5a5a" text-anchor="middle" textLength="11.59" lengthAdjust="spacing" transform="translate(1039.8 199.5) rotate(-90) scale(0.8200056195560551 1)" >65</text>
<line x1="1078.5" y1="185.8" x2="1078.5" y2="317.8" stroke="#333" stroke-width="0.8" />
<text class="cad" x="0" y="0" font-size="10" fill="#5a5a5a" text-anchor="middle" textLength="20.27" lengthAdjust="spacing" transform="translate(1073.8 195) rotate(-90) scale(0.7004801284624648 1)" >10.3</text>
<text class="cad" x="0" y="0" font-size="10" fill="#5a5a5a" text-anchor="middle" textLength="26.06" lengthAdjust="spacing" transform="translate(1073.8 257) rotate(-90) scale(0.8056950168602471 1)" >277.3</text>
<text class="cad" x="0" y="0" font-size="10" fill="#5a5a5a" text-anchor="middle" textLength="20.27" lengthAdjust="spacing" transform="translate(1073.8 308) rotate(-90) scale(0.7004801284624648 1)" >17.4</text>
<line x1="1044.6" y1="266" x2="1044.6" y2="401.9" stroke="#333" stroke-width="0.8" />
<text class="cad" x="0" y="0" font-size="10" fill="#5a5a5a" text-anchor="middle" textLength="11.59" lengthAdjust="spacing" transform="translate(1040 271.6) rotate(-90) scale(0.8200056195560551 1)" >47</text>
<line x1="1061.6" y1="257" x2="1061.6" y2="294.8" stroke="#333" stroke-width="0.8" />
<text class="cad" x="0" y="0" font-size="10" fill="#5a5a5a" text-anchor="middle" textLength="20.27" lengthAdjust="spacing" transform="translate(1057 267.5) rotate(-90) scale(0.7004801284624648 1)" >56.4</text>
<text class="cad" x="0" y="0" font-size="10" fill="#5a5a5a" text-anchor="middle" textLength="103.68" lengthAdjust="spacing" transform="translate(1039.5 366) rotate(-90) scale(0.68 1)" >120 (Service space)</text>
<rect x="792.7" y="436.5" width="303.5999999999999" height="94.0" fill="none" stroke="#5a5a5a" stroke-width="1.6"/>
<line x1="792.7" y1="448" x2="1096.3" y2="448" stroke="#777" stroke-width="1.6" />
<line x1="792.7" y1="471.5" x2="1096.3" y2="471.5" stroke="#777" stroke-width="1.2" />
<line x1="792.7" y1="483.5" x2="1096.3" y2="483.5" stroke="#777" stroke-width="1.2" />
<line x1="792.7" y1="495.5" x2="1096.3" y2="495.5" stroke="#777" stroke-width="1.2" />
<line x1="792.7" y1="506.5" x2="1096.3" y2="506.5" stroke="#777" stroke-width="1.2" />
<line x1="792.7" y1="518.5" x2="1096.3" y2="518.5" stroke="#777" stroke-width="1.2" />
<line x1="822.4" y1="436.5" x2="822.4" y2="530.5" stroke="#555" stroke-width="1.3" />
<line x1="940.6" y1="448" x2="940.6" y2="530.5" stroke="#555" stroke-width="1.3" />
<text class="cad" x="0" y="0" font-size="9" fill="#5a5a5a" text-anchor="middle" textLength="31.26" lengthAdjust="spacing" transform="translate(807.5 445.3) scale(0.7357700718525461 1)" >Symbol</text>
<text class="cad" x="0" y="0" font-size="9" fill="#5a5a5a" text-anchor="middle" textLength="38.24" lengthAdjust="spacing" transform="translate(944 445.3) scale(0.68 1)" >Content</text>
<text class="cad" x="0" y="0" font-size="9" fill="#5a5a5a" text-anchor="middle" textLength="6.25" lengthAdjust="spacing" transform="translate(807.6 463.2) scale(0.8315452486921215 1)" >A</text>
<text class="cad" x="0" y="0" font-size="9" fill="#5a5a5a" text-anchor="start" textLength="49.56" lengthAdjust="spacing" transform="translate(825 463.2) scale(0.68 1)" >Gas piping</text>
<text class="cad" x="0" y="0" font-size="9" fill="#5a5a5a" text-anchor="middle" textLength="6.25" lengthAdjust="spacing" transform="translate(807.6 480.2) scale(0.8315452486921215 1)" >B</text>
<text class="cad" x="0" y="0" font-size="9" fill="#5a5a5a" text-anchor="start" textLength="60.29" lengthAdjust="spacing" transform="translate(825 480.2) scale(0.68 1)" >Liquid piping</text>
<text class="cad" x="0" y="0" font-size="9" fill="#5a5a5a" text-anchor="middle" textLength="6.77" lengthAdjust="spacing" transform="translate(807.6 492.0) scale(0.7680369248521562 1)" >C</text>
<text class="cad" x="0" y="0" font-size="9" fill="#5a5a5a" text-anchor="start" textLength="157.65" lengthAdjust="spacing" transform="translate(825 492.0) scale(0.68 1)" >Hole on wall for right rear piping</text>
<text class="cad" x="0" y="0" font-size="9" fill="#5a5a5a" text-anchor="middle" textLength="6.77" lengthAdjust="spacing" transform="translate(807.6 503.6) scale(0.7680369248521562 1)" >D</text>
<text class="cad" x="0" y="0" font-size="9" fill="#5a5a5a" text-anchor="start" textLength="151.47" lengthAdjust="spacing" transform="translate(825 503.6) scale(0.68 1)" >Hole on wall for left rear piping</text>
<text class="cad" x="0" y="0" font-size="9" fill="#5a5a5a" text-anchor="middle" textLength="6.25" lengthAdjust="spacing" transform="translate(807.6 515.3) scale(0.8315452486921215 1)" >E</text>
<text class="cad" x="0" y="0" font-size="9" fill="#5a5a5a" text-anchor="start" textLength="51.32" lengthAdjust="spacing" transform="translate(825 515.3) scale(0.68 1)" >Drain hose</text>
<text class="cad" x="0" y="0" font-size="9" fill="#5a5a5a" text-anchor="middle" textLength="5.78" lengthAdjust="spacing" transform="translate(807.6 527.0) scale(0.9 1)" >F</text>
<text class="cad" x="0" y="0" font-size="9" fill="#5a5a5a" text-anchor="start" textLength="78.82" lengthAdjust="spacing" transform="translate(825 527.0) scale(0.68 1)" >Outlet for piping</text>
<text class="cad" x="0" y="0" font-size="9" fill="#5a5a5a" text-anchor="start" textLength="66.47" lengthAdjust="spacing" transform="translate(943.8 458) scale(0.68 1)" >SRK 20,25,35</text>
<text class="cad" x="0" y="0" font-size="9" fill="#5a5a5a" text-anchor="start" textLength="51.62" lengthAdjust="spacing" transform="translate(943.8 469.5) scale(0.68 1)" >SRK 50,60</text>
<text class="cad" x="0" y="0" font-size="9" fill="#5a5a5a" text-anchor="start" textLength="105.15" lengthAdjust="spacing" transform="translate(1018.3 458) scale(0.68 1)" >ø9.52 (3/8") (Flare)</text>
<text class="cad" x="0" y="0" font-size="9" fill="#5a5a5a" text-anchor="start" textLength="102.50" lengthAdjust="spacing" transform="translate(1018.3 469.5) scale(0.68 1)" >ø12.7 (1/2") (Flare)</text>
<text class="cad" x="0" y="0" font-size="9" fill="#5a5a5a" text-anchor="start" textLength="104.71" lengthAdjust="spacing" transform="translate(943.8 481.4) scale(0.68 1)" >ø6.35 (1/4") (Flare)</text>
<text class="cad" x="0" y="0" font-size="9" fill="#5a5a5a" text-anchor="start" textLength="22.40" lengthAdjust="spacing" transform="translate(943.8 492.6) scale(0.8974818496958599 1)" >(ø65)</text>
<text class="cad" x="0" y="0" font-size="9" fill="#5a5a5a" text-anchor="start" textLength="22.40" lengthAdjust="spacing" transform="translate(943.8 504.3) scale(0.8974818496958599 1)" >(ø65)</text>
<text class="cad" x="0" y="0" font-size="9" fill="#5a5a5a" text-anchor="start" textLength="22.93" lengthAdjust="spacing" transform="translate(943.8 515.9) scale(0.6933060807358201 1)" >VP16</text>
</svg></body></html>
